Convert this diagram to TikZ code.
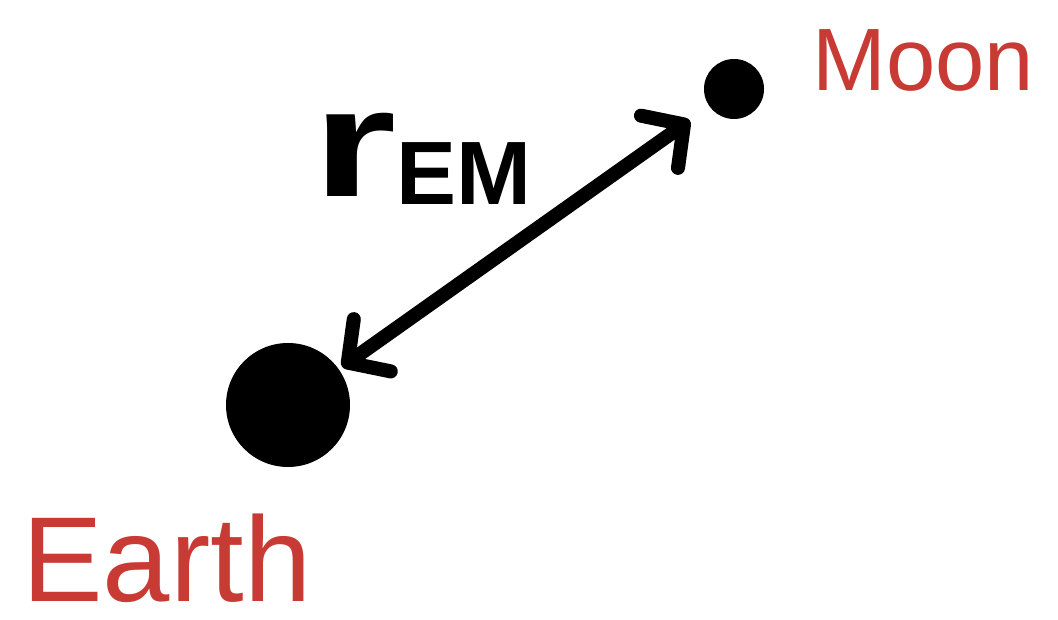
\documentclass[tikz,border=0pt]{standalone}
\usepackage{fontspec}
\setmainfont{Liberation Sans}
\usepackage{xcolor}
\usetikzlibrary{arrows.meta, positioning, calc}
\definecolor{inkred}{RGB}{200, 58, 52}
\tikzset{
    body/.style={circle, fill=black, inner sep=0pt},
    bodylabel/.style={text=inkred, inner sep=0pt, font=#1},
    dist/.style={line width=10pt, line cap=round,
                 {Straight Barb[length=0.75cm, width=1.6cm, round]}-{Straight Barb[length=0.75cm, width=1.6cm, round]}},
}

\begin{document}
\begin{tikzpicture}
    \useasboundingbox (0,0) rectangle (26.45,15.475);

    % Bodies
    \node[body, minimum size=3.1cm] (earth) at (7.2,5.35) {};
    \node[body, minimum size=1.5cm] (moon) at (18.35,13.25) {};

    % Names
    \node[bodylabel=\fontsize{86}{90}\selectfont, anchor=base west]
        (earthname) at (0.55,0.45) {Earth};
    \node[bodylabel=\fontsize{63}{66}\selectfont, anchor=base west]
        (moonname) at (20.3,13.2) {Moon};

    % Distance
    \draw[dist, shorten <=0.1cm, shorten >=0.6cm] (earth) -- (moon);
    \node[inner sep=0pt, anchor=base west, font=\bfseries] (rem) at (7.8,10.55)
        {\fontsize{110}{112}\selectfont\scalebox{1.4}[1]{r}\raisebox{-5pt}{\fontsize{64}{66}\selectfont EM}};
\end{tikzpicture}
\end{document}
